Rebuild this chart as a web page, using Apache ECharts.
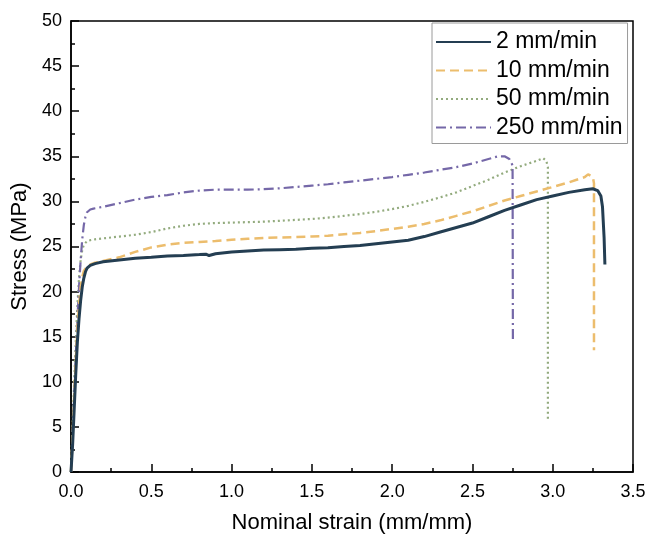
<!DOCTYPE html>
<html>
<head>
<meta charset="utf-8">
<script src="https://cdn.jsdelivr.net/npm/echarts@6/dist/echarts.min.js"></script>
<style>html,body{margin:0;padding:0;background:#fff}#c{width:649px;height:540px}</style>
</head>
<body>
<div id="c"></div>
<script>
// Series names
const seriesNames = ['2 mm/min', '10 mm/min', '50 mm/min', '250 mm/min'];
// Axis ticks
const xTicks = [0, 0.5, 1.0, 1.5, 2.0, 2.5, 3.0, 3.5];
const yTicks = [0, 5, 10, 15, 20, 25, 30, 35, 40, 45, 50];

// 2 mm/min
const strain2 = [0, 0.01, 0.02, 0.03, 0.04, 0.05, 0.06, 0.07, 0.08, 0.09, 0.10, 0.12, 0.15, 0.2, 0.3, 0.4, 0.5, 0.6, 0.7, 0.8, 0.84, 0.86, 0.9, 1.0, 1.1, 1.2, 1.3, 1.4, 1.5, 1.6, 1.7, 1.8, 1.9, 2.0, 2.1, 2.2, 2.3, 2.4, 2.5, 2.6, 2.7, 2.8, 2.9, 3.0, 3.1, 3.2, 3.25, 3.28, 3.30, 3.31, 3.32, 3.325];
const stress2 = [0, 3, 7, 11, 14.5, 17, 19, 20.5, 21.5, 22.2, 22.6, 22.9, 23.1, 23.3, 23.5, 23.7, 23.8, 23.95, 24.0, 24.1, 24.15, 24.0, 24.2, 24.4, 24.5, 24.6, 24.65, 24.7, 24.8, 24.85, 25.0, 25.1, 25.3, 25.5, 25.7, 26.1, 26.6, 27.1, 27.6, 28.3, 29.0, 29.6, 30.2, 30.6, 31.0, 31.3, 31.4, 31.2, 30.6, 29.4, 26.0, 23.0];

// 10 mm/min
const strain10 = [0, 0.01, 0.02, 0.03, 0.04, 0.05, 0.06, 0.07, 0.08, 0.1, 0.12, 0.15, 0.2, 0.3, 0.4, 0.5, 0.6, 0.7, 0.8, 0.9, 1.0, 1.1, 1.2, 1.3, 1.4, 1.5, 1.6, 1.7, 1.8, 1.9, 2.0, 2.1, 2.2, 2.3, 2.4, 2.5, 2.6, 2.7, 2.8, 2.9, 3.0, 3.1, 3.2, 3.22, 3.25, 3.257, 3.257];
const stress10 = [0, 4, 8.5, 12.5, 16, 18.5, 20.5, 21.6, 22.3, 22.8, 23.0, 23.2, 23.4, 23.8, 24.4, 24.9, 25.2, 25.4, 25.5, 25.6, 25.75, 25.85, 25.95, 26.0, 26.05, 26.1, 26.2, 26.35, 26.5, 26.7, 26.95, 27.2, 27.5, 27.9, 28.4, 28.9, 29.5, 30.1, 30.6, 31.1, 31.6, 32.1, 32.7, 33.0, 32.7, 32.0, 13.5];

// 50 mm/min
const strain50 = [0, 0.01, 0.02, 0.03, 0.04, 0.05, 0.06, 0.07, 0.08, 0.1, 0.12, 0.15, 0.2, 0.3, 0.4, 0.5, 0.6, 0.7, 0.8, 0.9, 1.0, 1.1, 1.2, 1.3, 1.4, 1.5, 1.6, 1.7, 1.8, 1.9, 2.0, 2.1, 2.2, 2.3, 2.4, 2.5, 2.6, 2.7, 2.8, 2.9, 2.94, 2.96, 2.97, 2.97];
const stress50 = [0, 5, 10, 14.5, 18.5, 21.5, 23.5, 24.6, 25.2, 25.6, 25.7, 25.8, 25.9, 26.1, 26.3, 26.6, 27.0, 27.3, 27.5, 27.6, 27.65, 27.7, 27.75, 27.85, 27.95, 28.05, 28.2, 28.4, 28.6, 28.85, 29.15, 29.5, 29.95, 30.45, 31.0, 31.7, 32.4, 33.2, 33.9, 34.5, 34.8, 34.5, 33.8, 5.8];

// 250 mm/min
const strain250 = [0, 0.01, 0.02, 0.03, 0.04, 0.05, 0.06, 0.07, 0.08, 0.09, 0.1, 0.12, 0.14, 0.17, 0.2, 0.3, 0.4, 0.5, 0.6, 0.7, 0.8, 0.9, 1.0, 1.1, 1.2, 1.3, 1.4, 1.5, 1.6, 1.7, 1.8, 1.9, 2.0, 2.1, 2.2, 2.3, 2.4, 2.5, 2.6, 2.66, 2.7, 2.73, 2.75, 2.752];
const stress250 = [0, 4, 8.5, 13, 17, 20.5, 23.5, 25.8, 27.4, 28.3, 28.8, 29.1, 29.2, 29.3, 29.4, 29.8, 30.2, 30.5, 30.7, 31.0, 31.2, 31.3, 31.3, 31.3, 31.35, 31.45, 31.6, 31.75, 31.9, 32.1, 32.3, 32.5, 32.7, 32.95, 33.2, 33.5, 33.8, 34.2, 34.7, 35.0, 35.0, 34.7, 34.0, 14.6];

const pair = (xs, ys) => xs.map((x, i) => [x, ys[i]]);
const FONT = '"Liberation Sans", Arial, sans-serif';

const chart = echarts.init(document.getElementById('c'), null, {renderer: 'canvas'});
chart.setOption({
  animation: false,
  backgroundColor: '#fff',
  textStyle: {fontFamily: FONT},
  grid: {left: 71, right: 16, top: 21, bottom: 68, show: true, borderColor: '#000', borderWidth: 1.5, backgroundColor: 'transparent'},
  legend: {
    orient: 'vertical', left: 432, top: 23,
    padding: [7, 5, 4, 3],
    itemWidth: 55, itemHeight: 14, itemGap: 4.5,
    borderColor: '#9a9a9a', borderWidth: 1, backgroundColor: '#fff',
    itemStyle: {opacity: 0, color: 'transparent', borderColor: 'transparent', borderWidth: 0},
    textStyle: {fontFamily: FONT, fontSize: 23, color: '#000', lineHeight: 24},
    data: seriesNames
  },
  xAxis: {
    type: 'value', min: xTicks[0], max: xTicks[xTicks.length - 1], interval: 0.5,
    name: 'Nominal strain (mm/mm)', nameLocation: 'middle', nameGap: 40,
    nameTextStyle: {fontFamily: FONT, fontSize: 22, color: '#000'},
    axisLine: {show: true, lineStyle: {color: '#000', width: 1.5}},
    axisTick: {show: true, inside: true, length: 8, lineStyle: {color: '#000', width: 1.5}},
    minorTick: {show: true, splitNumber: 2, length: 4, lineStyle: {color: '#000', width: 1.5}},
    axisLabel: {fontFamily: FONT, fontSize: 18, color: '#000', margin: 11, formatter: v => v.toFixed(1)},
    splitLine: {show: false}
  },
  yAxis: {
    type: 'value', min: yTicks[0], max: yTicks[yTicks.length - 1], interval: 5,
    name: 'Stress (MPa)', nameLocation: 'middle', nameGap: 38,
    nameTextStyle: {fontFamily: FONT, fontSize: 22, color: '#000'},
    axisLine: {show: true, lineStyle: {color: '#000', width: 1.5}},
    axisTick: {show: true, inside: true, length: 8, lineStyle: {color: '#000', width: 1.5}},
    minorTick: {show: true, splitNumber: 2, length: 4, lineStyle: {color: '#000', width: 1.5}},
    axisLabel: {fontFamily: FONT, fontSize: 18, color: '#000', margin: 9},
    splitLine: {show: false}
  },
  series: [
    {name: seriesNames[0], type: 'line', data: pair(strain2, stress2), symbol: 'none', showSymbol: false, z: 5,
     lineStyle: {color: '#243e52', width: 3, type: 'solid'}, itemStyle: {color: '#243e52'}},
    {name: seriesNames[1], type: 'line', data: pair(strain10, stress10), symbol: 'none', showSymbol: false, z: 4,
     lineStyle: {color: '#ecbd6d', width: 2.5, type: [9, 5]}, itemStyle: {color: '#ecbd6d'}},
    {name: seriesNames[2], type: 'line', data: pair(strain50, stress50), symbol: 'none', showSymbol: false, z: 3,
     lineStyle: {color: '#93ab7e', width: 2.2, type: [2, 3]}, itemStyle: {color: '#93ab7e'}},
    {name: seriesNames[3], type: 'line', data: pair(strain250, stress250), symbol: 'none', showSymbol: false, z: 3,
     lineStyle: {color: '#7568a8', width: 2.2, type: [10, 4, 2, 4]}, itemStyle: {color: '#7568a8'}}
  ]
});
</script>
</body>
</html>
